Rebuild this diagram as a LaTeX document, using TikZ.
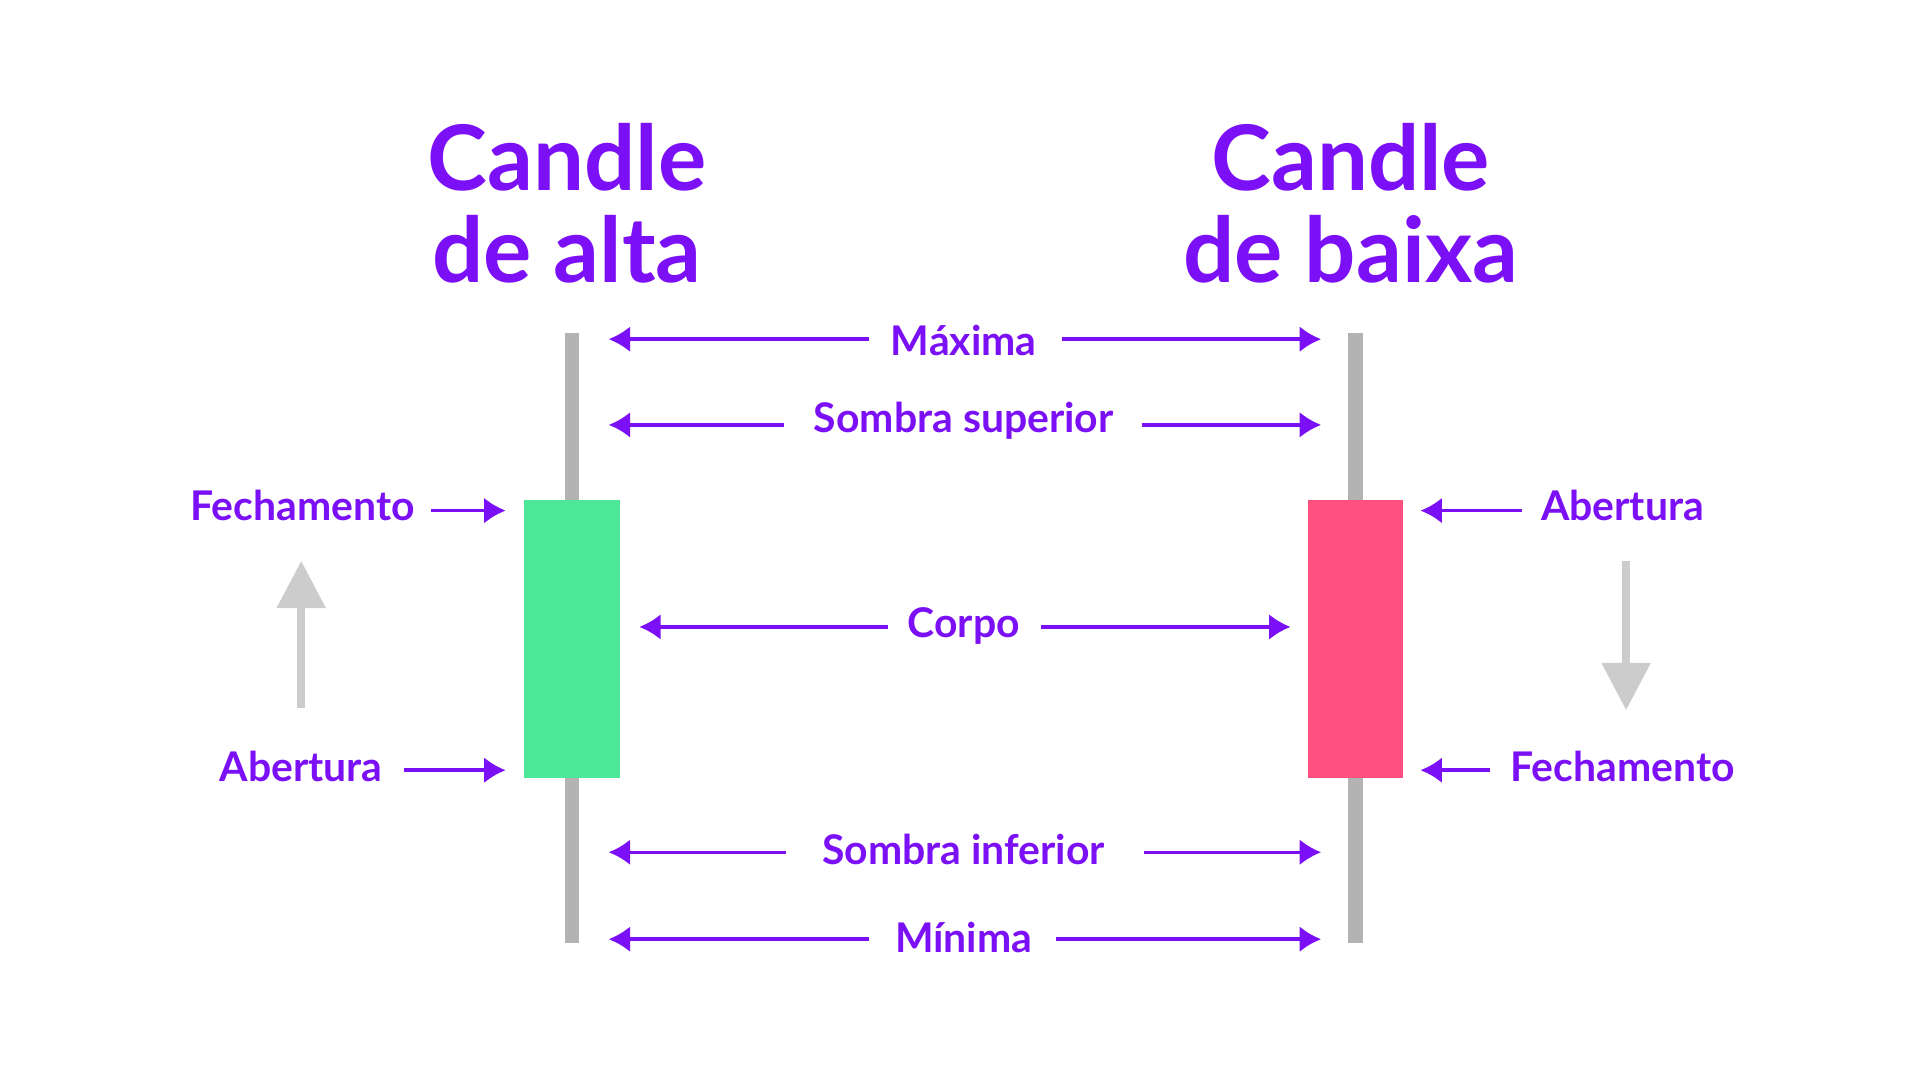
\documentclass[tikz,border=0pt]{standalone}
\usepackage{fontspec}
\setmainfont{Lato}
\usetikzlibrary{arrows.meta}
\definecolor{roxo}{HTML}{7B0FF5}
\definecolor{verde}{HTML}{4DE897}
\definecolor{vermelho}{HTML}{FF5080}
\definecolor{pavio}{HTML}{B3B3B3}
\definecolor{seta}{HTML}{CCCCCC}
\begin{document}
\begin{tikzpicture}[x=0.01cm, y=-0.01cm,
  lbl/.style={text=roxo, font=\bfseries\fontsize{9.5}{11}\selectfont, inner sep=0pt},
  ttl/.style={text=roxo, font=\bfseries\fontsize{21}{21.5}\selectfont, align=center, inner sep=0pt},
  ptr/.style={draw=roxo, line width=0.8pt, -{Latex[length=5pt,width=6pt]}},
  wick/.style={draw=pavio, line width=3.4pt},
  trend/.style={draw=seta, line width=1.8pt, -{Triangle[length=11pt,width=11pt]}}]
\useasboundingbox (0,0) rectangle (1568,882);

% titles
\node[ttl] (ta) at (463,166) {Candle\\de alta};
\node[ttl] (tb) at (1103,166) {Candle\\de baixa};

% candles
\draw[wick] (467,272) -- (467,770);
\draw[wick] (1107,272) -- (1107,770);
\fill[verde] (428,408) rectangle (506,635);
\fill[vermelho] (1068,408) rectangle (1146,635);

% middle labels
\node[lbl] (max) at (787,278) {Máxima};
\node[lbl] (ssup) at (787,344) {Sombra superior};
\node[lbl] (corpo) at (787,511) {Corpo};
\node[lbl] (sinf) at (787,694) {Sombra inferior};
\node[lbl] (min) at (787,766) {Mínima};

\coordinate (maxL) at (497,277);  \coordinate (maxR) at (1079,277);
\coordinate (ssupL) at (497,347); \coordinate (ssupR) at (1079,347);
\coordinate (corL) at (522,512);  \coordinate (corR) at (1054,512);
\coordinate (sinfL) at (497,696); \coordinate (sinfR) at (1079,696);
\coordinate (minL) at (497,767);  \coordinate (minR) at (1079,767);

\draw[ptr] (710,277) -- (maxL);  \draw[ptr] (867,277) -- (maxR);
\draw[ptr] (640,347) -- (ssupL); \draw[ptr] (933,347) -- (ssupR);
\draw[ptr] (725,512) -- (corL);  \draw[ptr] (850,512) -- (corR);
\draw[ptr] (642,696) -- (sinfL); \draw[ptr] (934,696) -- (sinfR);
\draw[ptr] (710,767) -- (minL);  \draw[ptr] (862,767) -- (minR);

% side labels
\node[lbl] (fechA) at (247,413) {Fechamento};
\node[lbl] (abA) at (246,626) {Abertura};
\node[lbl] (abB) at (1325,413) {Abertura};
\node[lbl] (fechB) at (1325,626) {Fechamento};

\coordinate (pFA) at (413,417); \coordinate (pAA) at (413,629);
\coordinate (pAB) at (1160,417); \coordinate (pFB) at (1160,629);
\draw[ptr] (352,417) -- (pFA);
\draw[ptr] (330,629) -- (pAA);
\draw[ptr] (1243,417) -- (pAB);
\draw[ptr] (1217,629) -- (pFB);

% trend arrows
\draw[trend] (246,578) -- (246,458);
\draw[trend] (1328,458) -- (1328,580);
\end{tikzpicture}
\end{document}
